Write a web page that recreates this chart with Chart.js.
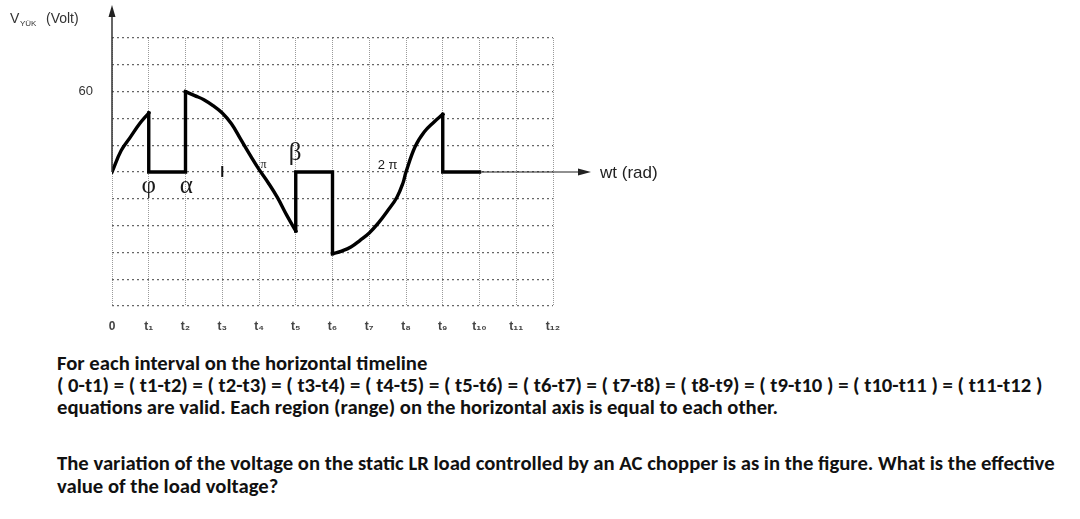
<!DOCTYPE html>
<html>
<head>
<meta charset="utf-8">
<script src="https://cdn.jsdelivr.net/npm/chart.js@4.4.1/dist/chart.umd.min.js"></script>
<style>
  html, body { margin: 0; padding: 0; background: #fff; }
  #wrap { position: absolute; left: 0; top: 0; width: 1080px; height: 345px; }
  .txt { position: absolute; left: 57px; white-space: nowrap; color: #111;
         font-family: Carlito, Lato, "Open Sans", sans-serif; font-weight: 700;
         line-height: 1; transform: translateY(-50%); }
</style>
</head>
<body>
<div id="wrap"><canvas id="c" width="1080" height="345"></canvas></div>
<div id="p1" class="txt" style="top:363px">For each interval on the horizontal timeline</div>
<div id="p2" class="txt" style="top:385px">( 0-t1) = ( t1-t2) = ( t2-t3) = ( t3-t4) = ( t4-t5) = ( t5-t6) = ( t6-t7) = ( t7-t8) = ( t8-t9) = ( t9-t10 ) = ( t10-t11 ) = ( t11-t12 )</div>
<div id="p3" class="txt" style="top:407px">equations are valid. Each region (range) on the horizontal axis is equal to each other.</div>
<div id="p4" class="txt" style="top:463px">The variation of the voltage on the static LR load controlled by an AC chopper is as in the figure. What is the effective</div>
<div id="p5" class="txt" style="top:486px">value of the load voltage?</div>
<script>
// ---- data ----
const xTickLabels = ['0','t\u2081','t\u2082','t\u2083','t\u2084','t\u2085','t\u2086','t\u2087','t\u2088','t\u2089','t\u2081\u2080','t\u2081\u2081','t\u2081\u2082'];
const yShownTicks = [60];

const curve1T = [0, 0.25, 0.5, 0.75, 1];
const curve1V = [0, 16, 26, 36, 44];
const step1T = [1, 1, 2, 2];
const step1V = [44, 0, 0, 60];
const curve2T = [2, 2.25, 2.5, 2.75, 3, 3.25, 3.5, 3.75, 4, 4.25, 4.5, 4.75, 5];
const curve2V = [60, 57, 54, 49.5, 44, 36, 24.5, 13, 2, -8, -19, -32, -44];
const step2T = [5, 5, 6, 6];
const step2V = [-44, 0, 0, -61];
const curve3T = [6, 6.25, 6.5, 6.75, 7, 7.25, 7.5, 7.75, 7.92, 8, 8.25, 8.5, 8.75, 9];
const curve3V = [-61, -59, -56, -51, -45.5, -38, -29, -19, -8, 0, 19, 30, 37, 43];
const step3T = [9, 9, 10];
const step3V = [43, 0, 0];

// annotation labels: [text, t, v, font]
const markLabels = [
  ['\u03C6', 1.0, -11, '25px "Liberation Serif"'],
  ['\u03B1', 2.02, -11, '25px "Liberation Serif"'],
  ['\u03C0', 4.12, 5, '12px "Liberation Serif"'],
  ['\u03B2', 4.98, 14, '25px "Liberation Serif"'],
  ['2 \u03C0', 7.5, 5, '13px "Liberation Sans"']
];

const pts = (t, v) => t.map((x, i) => ({x: x, y: v[i]}));
const lineDs = (t, v, tension) => ({
  data: pts(t, v), borderColor: '#000', borderWidth: 3.4, pointRadius: 0,
  tension: tension, fill: false, borderCapStyle: 'square', borderJoinStyle: 'miter'
});

const extras = {
  id: 'extras',
  afterDatasetsDraw(chart) {
    const ctx = chart.ctx;
    const xs = chart.scales.x, ys = chart.scales.y;
    const y0 = ys.getPixelForValue(0);
    const ax = xs.getPixelForValue(0);
    ctx.save();
    // y axis arrow
    ctx.strokeStyle = '#333'; ctx.fillStyle = '#222'; ctx.lineWidth = 1.5;
    ctx.beginPath(); ctx.moveTo(ax, y0); ctx.lineTo(ax, 14); ctx.stroke();
    ctx.beginPath(); ctx.moveTo(ax, 5); ctx.lineTo(ax - 3.5, 17); ctx.lineTo(ax + 3.5, 17); ctx.closePath(); ctx.fill();
    // x axis arrow (thin continuation)
    const xStart = xs.getPixelForValue(10);
    ctx.lineWidth = 1.2; ctx.strokeStyle = '#222';
    ctx.beginPath(); ctx.moveTo(xStart, y0); ctx.lineTo(582, y0); ctx.stroke();
    ctx.beginPath(); ctx.moveTo(591, y0); ctx.lineTo(578, y0 - 3.5); ctx.lineTo(578, y0 + 3.5); ctx.closePath(); ctx.fill();
    ctx.font = '17px "Liberation Sans", Arial, sans-serif';
    ctx.fillStyle = '#222'; ctx.textBaseline = 'middle'; ctx.textAlign = 'left';
    ctx.fillText('wt (rad)', 600, y0 + 1);
    // small tick mark at t3
    const x3 = xs.getPixelForValue(3);
    ctx.lineWidth = 2; ctx.strokeStyle = '#111';
    ctx.beginPath(); ctx.moveTo(x3, y0 - 6); ctx.lineTo(x3, y0 + 5); ctx.stroke();
    // greek labels
    ctx.fillStyle = '#1a1a1a'; ctx.textAlign = 'center';
    markLabels.forEach(([s, t, v, f]) => {
      ctx.font = f;
      ctx.fillText(s, xs.getPixelForValue(t), ys.getPixelForValue(v));
    });
    // y axis title
    ctx.textAlign = 'left'; ctx.textBaseline = 'alphabetic'; ctx.fillStyle = '#333';
    ctx.font = '14px "Liberation Sans", Arial, sans-serif';
    ctx.fillText('V', 10, 23);
    ctx.font = '8px "Liberation Sans", Arial, sans-serif';
    ctx.fillText('Y\u00DCK', 20, 26);
    ctx.font = '14px "Liberation Sans", Arial, sans-serif';
    ctx.fillText('(Volt)', 46, 23);
    ctx.restore();
  }
};

new Chart(document.getElementById('c'), {
  type: 'line',
  data: {
    datasets: [
      lineDs(curve1T, curve1V, 0.4),
      lineDs(step1T, step1V, 0),
      lineDs(curve2T, curve2V, 0.4),
      lineDs(step2T, step2V, 0),
      lineDs(curve3T, curve3V, 0.4),
      lineDs(step3T, step3V, 0)
    ]
  },
  options: {
    responsive: false, animation: false,
    layout: { padding: { top: 38, right: 527, left: 0, bottom: 0 } },
    plugins: { legend: { display: false }, tooltip: { enabled: false } },
    scales: {
      x: {
        type: 'linear', min: 0, max: 12,
        afterFit: s => { s.height = 39; },
        ticks: { stepSize: 1, autoSkip: false, maxRotation: 0, padding: 13, color: '#444',
                 font: { family: '"Liberation Sans", Arial, sans-serif', size: 12, weight: 'bold' },
                 callback: v => xTickLabels[v] },
        grid: { color: '#9a9a9a', lineWidth: 1, drawTicks: false },
        border: { display: false, dash: [1, 1] }
      },
      y: {
        min: -100, max: 100,
        afterFit: s => { s.width = 112; },
        ticks: { stepSize: 20, padding: 19, color: '#333',
                 font: { family: '"Liberation Sans", Arial, sans-serif', size: 13 },
                 callback: v => yShownTicks.includes(v) ? String(v) : '' },
        grid: { color: '#666', lineWidth: 1.3, drawTicks: false },
        border: { display: false, dash: [2, 3] }
      }
    }
  },
  plugins: [extras]
});

// fit paragraph font size to the reference line width
(function () {
  const c = document.createElement('canvas').getContext('2d');
  const fam = getComputedStyle(document.getElementById('p4')).fontFamily;
  c.font = '700 100px ' + fam;
  const w = c.measureText(document.getElementById('p4').textContent).width;
  const size = 100 * 998 / w;
  document.querySelectorAll('.txt').forEach(el => { el.style.fontSize = size.toFixed(2) + 'px'; });
})();
</script>
</body>
</html>
